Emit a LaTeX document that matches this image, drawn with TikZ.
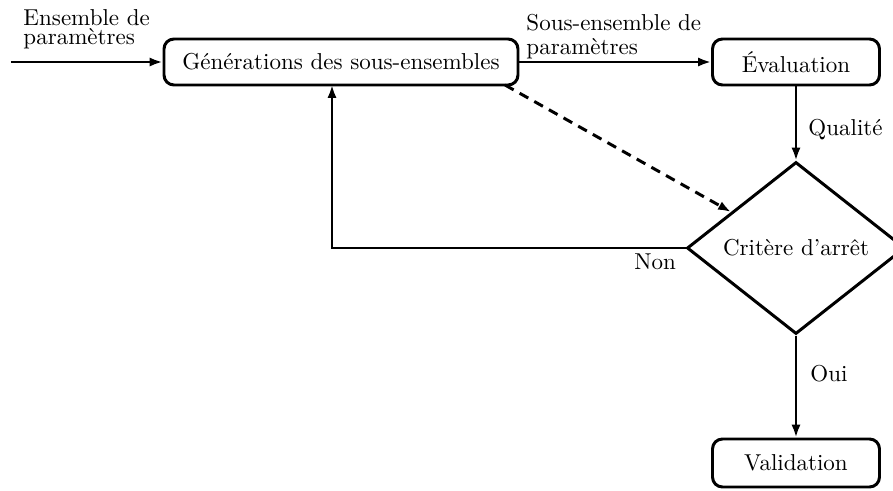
\documentclass[tikz,border=0pt]{standalone}
\usepackage{fontspec}
\usetikzlibrary{shapes.geometric,arrows.meta,calc}
\newlength\pxu
\setlength\pxu{0.4348pt}
\begin{document}
\begin{tikzpicture}[x=0.4348pt, y=-0.4348pt, line width=1.3pt,
  box/.style={draw, rounded corners=4.3pt, minimum height=46\pxu, inner sep=0pt},
  arr/.style={-{Latex[length=5.6pt,width=4pt]}},
  lbl/.style={inner sep=0pt, align=left}]
\useasboundingbox (0,0) rectangle (893,491);
\node[box, minimum width=354\pxu] (gen) at (341,62) {Générations des sous-ensembles};
\node[box, minimum width=167\pxu] (eval) at (796,62) {Évaluation};
\node[draw, diamond, aspect=1.267, inner sep=0pt, minimum width=218\pxu, minimum height=172\pxu] (crit) at (796,248) {Critère d'arrêt};
\node[box, minimum width=167\pxu, minimum height=48\pxu] (valid) at (796,463) {Validation};
\coordinate (in) at (11,62);
\coordinate (nonup) at (332,85);
\coordinate (dstart) at (505,85);
\draw[arr] (in) -- (gen);
\draw[arr] (gen) -- (eval);
\draw[arr] (eval) -- (crit);
\draw[arr] (crit) -- (valid);
\draw[arr] (crit.west) -| (nonup);
\draw[arr, dash pattern=on 4.3pt off 3pt] (dstart) -- (crit.151);
\node[lbl, anchor=north west] (lin) at (22,8) {Ensemble de\\[-3.6pt]paramètres};
\node[lbl, anchor=north west] (lsub) at (525,13) {Sous-ensemble de\\[-1.6pt]paramètres};
\node[lbl, anchor=base west] (lq) at (807,135) {Qualité};
\node[lbl, anchor=base west] (lnon) at (633,269) {Non};
\node[lbl, anchor=base west] (loui) at (809,381) {Oui};
\end{tikzpicture}
\end{document}
